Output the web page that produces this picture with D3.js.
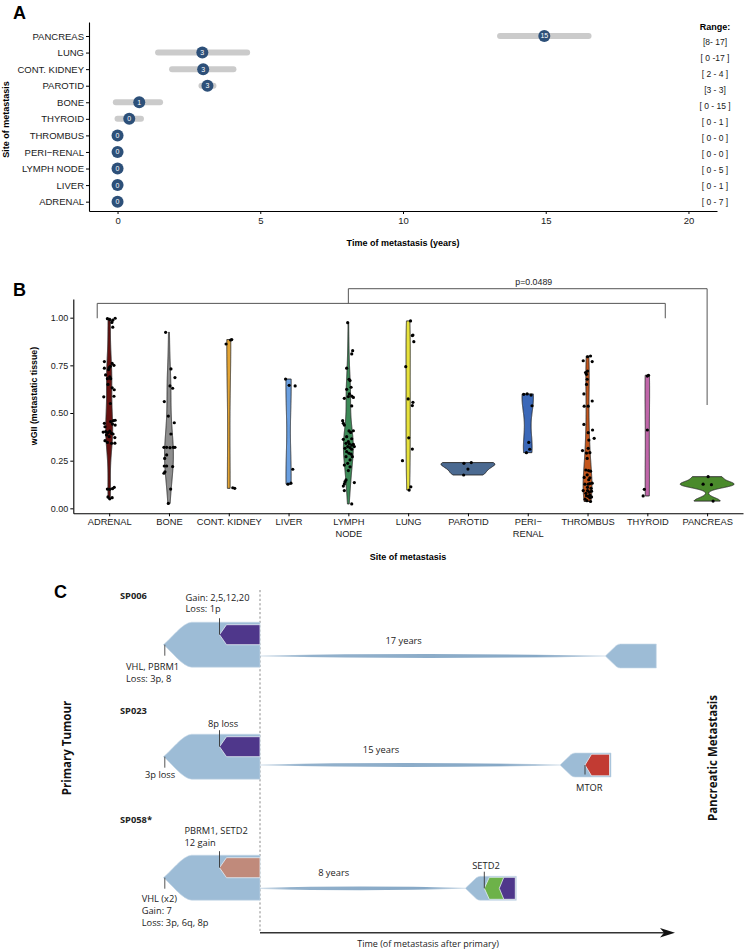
<!DOCTYPE html>
<html><head><meta charset="utf-8">
<script src="https://cdn.jsdelivr.net/npm/d3@7"></script>
<style>body{margin:0;background:#fff} svg{display:block}</style>
</head><body><svg id="c" width="744" height="952"></svg>
<script>
// ================= DATA =================
// Panel A : time of metastasis (years)
const sitesA = ["ADRENAL","LIVER","LYMPH NODE","PERI\u2212RENAL","THROMBUS","THYROID","BONE","PAROTID","CONT. KIDNEY","LUNG","PANCREAS"];
const timeMid = [0,0,0,0,0,0.41,0.76,3.15,3.0,2.97,14.95];
const timeLo  = [0,0,0,0,0,0.0,-0.06,2.94,1.91,1.42,13.4];
const timeHi  = [0,0,0,0,0,0.82,1.49,3.36,4.06,4.54,16.5];
const rangeLabels = ["[ 0 - 7 ]","[ 0 - 1 ]","[ 0 - 5 ]","[ 0 - 0 ]","[ 0 - 0 ]","[ 0 - 1 ]","[ 0 - 15 ]","[3 - 3]","[ 2 - 4 ]","[ 0 -17 ]","[8- 17]"];
const ticksA = [0,5,10,15,20];

// Panel B : wGII per site, [value, horizontal jitter in category units]
const sitesB = ["ADRENAL","BONE","CONT. KIDNEY","LIVER","LYMPH\nNODE","LUNG","PAROTID","PERI\u2212\nRENAL","THROMBUS","THYROID","PANCREAS"];
const colorsB = ["#66100f","#8e8e8e","#e3a434","#6a9fe0","#3c8a57","#e7e23c","#4b6a91","#3b68b8","#c4561c","#c066a9","#4a8a2b"];
const wgiiAdrenal = [[0.995,-0.03],[0.99,0.01],[0.987,0.06],[0.997,0.1],[0.975,0.045],[0.95,0.06],
 [0.77,-0.08],[0.76,0.05],[0.75,0.08],[0.745,0.02],[0.735,-0.08],[0.738,0.0],[0.728,-0.01],
 [0.70,-0.06],[0.69,0.01],[0.68,-0.03],[0.68,0.025],[0.65,-0.02],[0.632,0.05],[0.622,0.085],[0.585,-0.09],[0.588,0.08],
 [0.55,0.02],[0.46,0.07],[0.462,0.1],[0.455,0.025],[0.446,-0.08],[0.442,0.055],[0.437,0.1],
 [0.428,-0.07],[0.405,0.01],[0.402,-0.06],[0.40,-0.1],[0.397,-0.02],[0.393,0.04],[0.39,0.065],[0.385,-0.045],[0.376,0.0],[0.371,0.095],
 [0.355,-0.07],[0.346,-0.03],[0.341,0.04],[0.342,0.095],
 [0.101,-0.03],[0.10,0.01],[0.103,0.055],[0.11,0.085],[0.06,-0.02],[0.05,0.01],[0.056,0.05]];
const wgiiBone = [[0.923,-0.056],[0.731,0.033],[0.686,0.1],[0.642,0.017],[0.63,0.061],[0.56,-0.078],[0.484,-0.011],[0.449,0.089],
 [0.39,0.033],[0.32,-0.084],[0.32,-0.039],[0.318,0.017],[0.32,0.072],[0.32,0.1],[0.28,-0.039],[0.262,-0.072],[0.222,-0.078],
 [0.222,-0.039],[0.219,0.061],[0.184,-0.084],[0.192,-0.067],[0.101,0.028],[0.026,-0.011]];
const wgiiKidney = [[0.862,-0.045],[0.883,0.03],[0.885,0.05],[0.108,0.067],[0.105,0.1]];
const wgiiLiver = [[0.678,-0.05],[0.645,0.01],[0.642,0.11],[0.205,0.07],[0.132,0.04],[0.127,-0.01]];
const wgiiLymph = [[0.974,-0.011],[0.827,0.072],[0.81,0.056],[0.735,-0.028],[0.677,0.011],[0.67,0.028],[0.624,-0.028],[0.635,0.045],
 [0.6,0.017],[0.577,-0.067],[0.586,0.0],[0.589,0.056],[0.582,0.084],[0.537,0.056],[0.46,-0.095],[0.446,-0.084],[0.437,-0.067],
 [0.406,0.011],[0.407,0.084],[0.398,0.039],[0.376,-0.028],[0.362,-0.084],[0.365,0.056],[0.35,0.0],[0.341,-0.039],[0.338,0.017],
 [0.332,0.056],[0.336,0.084],[0.324,-0.011],[0.315,-0.056],[0.318,0.028],[0.31,0.056],[0.324,0.1],[0.297,-0.028],[0.289,0.011],
 [0.284,0.045],[0.271,-0.039],[0.271,0.067],[0.254,0.028],[0.236,-0.011],[0.227,-0.067],[0.218,0.028],[0.198,0.0],[0.149,-0.039],
 [0.14,-0.056],[0.128,-0.067],[0.135,0.1],[0.117,-0.084],[0.093,-0.067],[0.023,0.056]];
const wgiiLung = [[0.983,0.04],[0.906,0.07],[0.909,0.08],[0.874,0.095],[0.743,-0.04],[0.574,0.0],[0.556,0.08],[0.539,0.07],
 [0.37,0.01],[0.311,0.07],[0.25,-0.095],[0.113,0.045],[0.096,0.017]];
const wgiiParotid = [[0.236,-0.067],[0.24,0.056],[0.206,0.0],[0.175,-0.072]];
const wgiiPeri = [[0.598,-0.067],[0.6,-0.01],[0.594,0.056],[0.538,0.072],[0.346,0.017],[0.31,0.033],[0.292,-0.022]];
const wgiiThrombus = [[0.795,0.0],[0.799,0.05],[0.774,-0.072],[0.77,0.078],[0.712,-0.033],[0.72,0.0],[0.703,-0.017],[0.677,-0.006],
 [0.65,-0.017],[0.6,-0.061],[0.563,0.078],[0.536,-0.056],[0.536,0.011],[0.44,-0.061],[0.411,0.084],[0.397,0.011],[0.367,0.111],
 [0.358,0.022],[0.315,0.011],[0.303,-0.084],[0.29,-0.017],[0.292,0.039],[0.262,-0.006],[0.201,-0.028],[0.198,0.017],[0.195,0.05],
 [0.176,-0.006],[0.162,-0.056],[0.16,0.039],[0.15,0.02],[0.132,0.078],[0.127,-0.044],[0.127,0.011],[0.13,0.039],[0.11,0.0],[0.105,0.06],
 [0.093,-0.072],[0.093,0.0],[0.09,0.067],[0.085,0.03],[0.079,-0.028],[0.07,0.039],[0.066,-0.017],[0.063,0.011],[0.06,0.067],
 [0.055,0.039],[0.048,-0.04],[0.04,-0.01],[0.036,0.05]];
const wgiiThyroid = [[0.694,0.0],[0.698,0.02],[0.411,0.0],[0.1,-0.05],[0.065,-0.07]];
const wgiiPancreas = [[0.166,0.017],[0.127,-0.067],[0.124,0.072],[0.038,0.1]];
const wgiiBySite = [wgiiAdrenal,wgiiBone,wgiiKidney,wgiiLiver,wgiiLymph,wgiiLung,wgiiParotid,wgiiPeri,wgiiThrombus,wgiiThyroid,wgiiPancreas];
const ticksB = [0,0.25,0.5,0.75,1];
// comparison brackets: [from idx, to idx, bar y, left leg end, right leg end]
const brackets = [[-0.2,9.3,1.075,0.997,0.997],[4,10,1.152,1.075,0.542]];
const pLabel = "p=0.0489";

// Panel C : evolutionary schematic
const samples = ["SP006","SP023","SP058*"];
const lagYears = [17,15,8];
const truncalEvents = [["VHL, PBRM1","Loss: 3p, 8"],["3p loss"],["VHL (x2)","Gain: 7","Loss: 3p, 6q, 8p"]];
const primarySubclone = [["Gain: 2,5,12,20","Loss: 1p"],["8p loss"],["PBRM1, SETD2","12 gain"]];
const primarySubcloneColor = ["#4f378b","#4f378b","#c08a7b"];
const metSubclones = [[],[{label:"MTOR",color:"#c23b33"}],[{label:"SETD2",color:"#6db249"},{label:"",color:"#4f378b"}]];

// ================= DRAW =================
const svg = d3.select("#c");
svg.append("rect").attr("width",744).attr("height",952).attr("fill","#fff");
const AR = "Liberation Sans, Arial, sans-serif";
const MY = "Open Sans, Noto Sans, sans-serif";

function panelLetter(t,x,y){ svg.append("text").attr("x",x).attr("y",y).attr("font-family",AR).attr("font-weight","bold").attr("font-size",18).text(t); }
function styleAxis(g,fs){
  g.selectAll("text").attr("font-family",AR).attr("font-size",fs).attr("fill","#1a1a1a");
  g.selectAll("line").attr("stroke","#000");
  g.select(".domain").attr("stroke","#000").attr("stroke-width",1.1);
}

// ---------- Panel A ----------
panelLetter("A",13,18.5);
const xA = d3.scaleLinear().domain([-1,21]).range([89,717]);
const yA = d3.scalePoint().domain(sitesA).range([211,22]).padding(0.705).align(0.6);
const yR = d3.scalePoint().domain(sitesA).range([202.5,42]);

const gA = svg.append("g");
gA.selectAll("line.bar").data(sitesA).join("line")
  .attr("x1",(d,i)=>xA(timeLo[i])).attr("x2",(d,i)=>xA(timeHi[i]))
  .attr("y1",d=>yA(d)).attr("y2",d=>yA(d))
  .attr("stroke","#cbcbcb").attr("stroke-width",6).attr("stroke-linecap","round");
gA.selectAll("circle").data(sitesA).join("circle")
  .attr("cx",(d,i)=>xA(timeMid[i])).attr("cy",d=>yA(d)).attr("r",6).attr("fill","#2d5079");
gA.selectAll("text.num").data(sitesA).join("text")
  .attr("x",(d,i)=>xA(timeMid[i])).attr("y",d=>yA(d)).attr("dy","0.35em")
  .attr("text-anchor","middle").attr("font-family",AR).attr("font-size",7).attr("fill","#fff")
  .text((d,i)=>Math.round(timeMid[i]));

const axAx = svg.append("g").attr("transform","translate(0,211)")
  .call(d3.axisBottom(xA).tickValues(ticksA).tickSize(3).tickSizeOuter(0).tickPadding(3));
styleAxis(axAx,9.5);
const axAy = svg.append("g").attr("transform","translate(89,0)")
  .call(d3.axisLeft(yA).tickSize(3).tickSizeOuter(0).tickPadding(2));
styleAxis(axAy,9.5);
svg.append("text").attr("x",403).attr("y",246).attr("text-anchor","middle").attr("font-family",AR)
  .attr("font-weight","bold").attr("font-size",9).text("Time of metastasis (years)");
svg.append("text").attr("transform","translate(8.5,119.5) rotate(-90)").attr("text-anchor","middle").attr("font-family",AR)
  .attr("font-weight","bold").attr("font-size",9).text("Site of metastasis");
svg.append("text").attr("x",715).attr("y",30).attr("text-anchor","middle").attr("font-family",AR)
  .attr("font-weight","bold").attr("font-size",9).text("Range:");
svg.append("g").selectAll("text").data(sitesA).join("text")
  .attr("x",715).attr("y",d=>yR(d)).attr("dy","0.35em").attr("text-anchor","middle")
  .attr("font-family",AR).attr("font-size",8.5).attr("fill","#1a1a1a").text((d,i)=>rangeLabels[i]);

// ---------- Panel B ----------
panelLetter("B",13,295.5);
const xB = d3.scalePoint().domain(sitesB).range([73.3,743]).padding(0.6);
const yB = d3.scaleLinear().domain([-0.026,1.098]).range([513.3,299]);
const idxB = d3.scaleLinear().domain([0,sitesB.length-1]).range([xB(sitesB[0]),xB(sitesB[sitesB.length-1])]);

function kde(values){
  const s = values.slice().sort(d3.ascending);
  const n = s.length, sd = d3.deviation(s);
  const iqr = d3.quantile(s,0.75)-d3.quantile(s,0.25);
  let lo = Math.min(sd, iqr/1.34);
  if (!(lo>0)) lo = sd || Math.abs(s[0]) || 1;
  const bw = 0.9*lo*Math.pow(n,-0.2);
  const [mn,mx] = d3.extent(s);
  return d3.range(512).map(i=>{
    const y = mn+(mx-mn)*i/511;
    const d = d3.sum(s,v=>Math.exp(-0.5*((y-v)/bw)**2))/(n*bw*Math.sqrt(2*Math.PI));
    return [y,d];
  });
}
const dens = wgiiBySite.map(pts=>kde(pts.map(p=>p[0])));
const maxD = d3.max(dens,ds=>d3.max(ds,d=>d[1]));
const halfW = 0.45*xB.step();
const gB = svg.append("g");
sitesB.forEach((s,i)=>{
  const cx = xB(s);
  const area = d3.area().y(d=>yB(d[0])).x0(d=>cx-halfW*d[1]/maxD).x1(d=>cx+halfW*d[1]/maxD);
  gB.append("path").attr("d",area(dens[i])).attr("fill",colorsB[i]).attr("stroke","#2a2a2a").attr("stroke-width",0.9);
});
sitesB.forEach((s,i)=>{
  gB.append("g").selectAll("circle").data(wgiiBySite[i]).join("circle")
    .attr("cx",p=>xB(s)+p[1]*xB.step()).attr("cy",p=>yB(p[0])).attr("r",1.6).attr("fill","#000");
});
const axBx = svg.append("g").attr("transform","translate(0,513.3)")
  .call(d3.axisBottom(xB).tickSize(3).tickSizeOuter(0).tickPadding(2));
styleAxis(axBx,9.3);
axBx.selectAll(".tick text").each(function(d){
  const t = d3.select(this); const lines = d.split("\n"); t.text(null);
  lines.forEach((l,k)=>t.append("tspan").attr("x",0).attr("dy",k===0?"0.71em":"1.25em").text(l));
});
const axBy = svg.append("g").attr("transform","translate(73.3,0)")
  .call(d3.axisLeft(yB).tickValues(ticksB).tickFormat(d3.format(".2f")).tickSize(3).tickSizeOuter(0).tickPadding(2));
styleAxis(axBy,9);
svg.append("text").attr("x",408).attr("y",560).attr("text-anchor","middle").attr("font-family",AR)
  .attr("font-weight","bold").attr("font-size",9).text("Site of metastasis");
svg.append("text").attr("transform","translate(37,396) rotate(-90)").attr("text-anchor","middle").attr("font-family",AR)
  .attr("font-weight","bold").attr("font-size",8.8).text("wGII (metastatic tissue)");
brackets.forEach(b=>{
  const [f,t,yb,l1,l2] = b;
  gB.append("path").attr("d",`M${idxB(f)},${yB(l1)}V${yB(yb)}H${idxB(t)}V${yB(l2)}`)
    .attr("fill","none").attr("stroke","#555").attr("stroke-width",1);
});
svg.append("text").attr("x",idxB(7.1)).attr("y",yB(1.186)).attr("dy","0.35em").attr("text-anchor","middle")
  .attr("font-family",AR).attr("font-size",8.8).attr("fill","#222").text(pLabel);

// ---------- Panel C ----------
panelLetter("C",54,598);
const rowY = d3.scaleOrdinal().domain(samples).range([644.7,756.7,877.7]);
const xC = d3.scaleLinear().domain([0,8,15,17]).range([260,465.3,560,605.3]);
const L = { // schematic layout (pixels relative to row)
  connDy:[11.3,8.3,10.6], labelDy:[-45.7,-42.7,-54.4],
  subLabelDx:[-34,-11.5,-35], subLabelDy:[-32.5,-30,-32],
  truncDx:[-37.3,-18.3,-21.6], truncDy:[25.3,21.3,24]
};
const blue = "#9dbcd6";
const defs = svg.append("defs");
const grad = defs.append("linearGradient").attr("id","conn").attr("x1","0%").attr("x2","100%");
[[0,0.35],[0.15,0.9],[0.8,1],[1,0.35]].forEach(s=>grad.append("stop").attr("offset",s[0]).attr("stop-color","#86a8c6").attr("stop-opacity",s[1]));

const gC = svg.append("g");
gC.append("line").attr("x1",xC(0)).attr("x2",xC(0)).attr("y1",590).attr("y2",932.7)
  .attr("stroke","#8a8a8a").attr("stroke-width",1).attr("stroke-dasharray","2.2,2.2");

function chevron(tip,cy,half,depth,right){
  return `M${tip},${cy}L${tip+depth},${cy-half}L${right},${cy-half}L${right},${cy+half}L${tip+depth},${cy+half}Z`;
}
function txt(x,y,t,anchor,opt){
  const e = gC.append("text").attr("x",x).attr("y",y).attr("font-family",MY).attr("font-size",9.3)
    .attr("fill","#222").attr("text-anchor",anchor||"start").text(t);
  if(opt&&opt.bold) e.attr("font-weight","bold");
  return e;
}
samples.forEach((s,i)=>{
  const cy = rowY(s), right = xC(0), tip = right-96.7, full = tip+28.5, h = 22.5;
  // primary tumour
  gC.append("path").attr("d",`M${tip},${cy}C${tip+7},${cy-5} ${full-9},${cy-h} ${full},${cy-h}L${right},${cy-h}L${right},${cy+h}L${full},${cy+h}C${full-9},${cy+h} ${tip+7},${cy+5} ${tip},${cy}Z`)
    .attr("fill",blue).attr("stroke","#c8d9e8").attr("stroke-width",0.6);
  // primary subclone
  const st = right-40.5, sc = cy-10;
  gC.append("path").attr("d",chevron(st,sc,10,7,right)).attr("fill",primarySubcloneColor[i]).attr("stroke","#e6edf4").attr("stroke-width",0.8);
  gC.append("line").attr("x1",st).attr("x2",st).attr("y1",sc).attr("y2",sc-16.5).attr("stroke","#333").attr("stroke-width",0.9);
  const sl = primarySubclone[i];
  sl.forEach((t,k)=>txt(st+L.subLabelDx[i], cy+L.subLabelDy[i]-(sl.length-1-k)*11.5, t));
  // truncal events
  gC.append("line").attr("x1",tip+1.5).attr("x2",tip+1.5).attr("y1",cy).attr("y2",cy+11).attr("stroke","#555").attr("stroke-width",1);
  truncalEvents[i].forEach((t,k)=>txt(tip+L.truncDx[i], cy+L.truncDy[i]+k*12.3, t));
  // sample name
  txt(120, cy+L.labelDy[i], s, "start", {bold:true});
  // connector
  const yc = cy+L.connDy[i], xm = xC(lagYears[i]);
  gC.append("path").attr("d",`M${right},${yc-0.6}Q${(right+xm)/2},${yc-3.2} ${xm},${yc-0.5}L${xm},${yc+0.5}Q${(right+xm)/2},${yc+3.2} ${right},${yc+0.6}Z`)
    .attr("fill","url(#conn)");
  txt((right+xm)/2-29, yc-12, lagYears[i]+" years", "middle");
  // metastasis
  const mh = 12, mr = xm+51;
  gC.append("path").attr("d",`M${xm},${yc}L${xm+11},${yc-mh+1.5}Q${xm+13},${yc-mh} ${xm+15},${yc-mh}L${mr},${yc-mh}L${mr},${yc+mh}L${xm+15},${yc+mh}Q${xm+13},${yc+mh} ${xm+11},${yc+mh-1.5}Z`)
    .attr("fill",blue).attr("stroke","#c8d9e8").attr("stroke-width",0.6);
  const mc = metSubclones[i];
  if(mc.length===1){
    const t0 = xm+25;
    gC.append("path").attr("d",chevron(t0,yc,10.8,6.5,mr-1.5)).attr("fill",mc[0].color).attr("stroke","#e6edf4").attr("stroke-width",0.8);
    gC.append("line").attr("x1",t0).attr("x2",t0).attr("y1",yc).attr("y2",yc+9.5).attr("stroke","#333").attr("stroke-width",0.9);
    txt(t0+4.3, yc+26, mc[0].label, "middle");
  } else if(mc.length===2){
    const t0 = xm+19, t1 = xm+34;
    gC.append("path").attr("d",chevron(t0,yc,11,5,mr-1)).attr("fill",mc[0].color).attr("stroke","#e6edf4").attr("stroke-width",0.8);
    gC.append("path").attr("d",chevron(t1,yc,11,4.5,mr-1)).attr("fill",mc[1].color).attr("stroke","#e6edf4").attr("stroke-width",0.8);
    gC.append("line").attr("x1",t0).attr("x2",t0).attr("y1",yc).attr("y2",yc-16.6).attr("stroke","#333").attr("stroke-width",0.9);
    txt(t0+1.7, yc-19.3, mc[0].label, "middle");
  }
});
// time axis
gC.append("line").attr("x1",xC(0)).attr("x2",668).attr("y1",932.7).attr("y2",932.7).attr("stroke","#333").attr("stroke-width",1.6);
gC.append("path").attr("d","M675,932.7L660,928L664,932.7L660,937.4Z").attr("fill","#111");
txt(428,947,"Time (of metastasis after primary)","middle").attr("font-size",9);
gC.append("text").attr("transform","translate(71,748) rotate(-90)").attr("text-anchor","middle").attr("font-family",MY)
  .attr("font-weight","bold").attr("font-size",11.5).attr("fill","#111").text("Primary Tumour");
gC.append("text").attr("transform","translate(717,758) rotate(-90)").attr("text-anchor","middle").attr("font-family",MY)
  .attr("font-weight","bold").attr("font-size",11.5).attr("fill","#111").text("Pancreatic Metastasis");
</script></body></html>
